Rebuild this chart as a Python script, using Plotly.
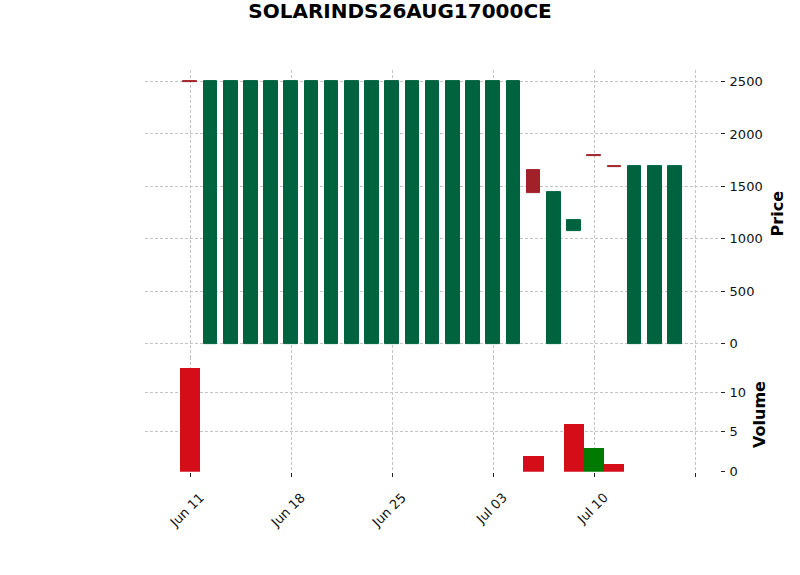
import plotly.graph_objects as go

# ---- data ----
title = "SOLARINDS26AUG17000CE"
positions = list(range(25))
opens = [2500] + [0] * 16 + [1660, 0, 1072, 1800, 1695, 0, 0, 0]
closes = [2492] + [2500] * 16 + [1435, 1445, 1180, 1792, 1688, 1690, 1690, 1690]
volumes = [13] + [0] * 16 + [2, 0, 6, 3, 1, 0, 0, 0]
tick_positions = [0, 5, 10, 15, 20, 25]
tick_labels = ["Jun 11", "Jun 18", "Jun 25", "Jul 03", "Jul 10", ""]
price_ticks = [0, 500, 1000, 1500, 2000, 2500]
volume_ticks = [0, 5, 10]
volume_grid = [5, 10]

# ---- style ----
UP, DOWN = "#006340", "#a02128"
VUP, VDOWN = "#007a00", "#d50d18"
GRID = "#c4c4c4"
DASH = "3px,2px"
FONT = "DejaVu Sans"
W, H = 800, 575
H_EFF = 566  # rendered plot height observed in the sandbox

candle_colors = [UP if c > o else DOWN for o, c in zip(opens, closes)]
vol_colors = []
for i, c in enumerate(closes):
    ref = opens[i] if i == 0 else closes[i - 1]
    vol_colors.append(VUP if c > ref else VDOWN)

fig = go.Figure()
fig.add_trace(go.Bar(
    x=positions, y=[c - o for o, c in zip(opens, closes)], base=opens,
    width=0.68, marker=dict(color=candle_colors, line=dict(color=candle_colors, width=1)),
    xaxis="x", yaxis="y", showlegend=False, hoverinfo="skip"))
fig.add_trace(go.Bar(
    x=positions, y=volumes, width=1.0,
    marker=dict(color=vol_colors, line=dict(width=0)),
    xaxis="x2", yaxis="y2", showlegend=False, hoverinfo="skip"))


def px_x(p):
    return p / W


def px_y(p):
    return 1 - p / H_EFF


xrange = [-2.24, 26.23]
common_x = dict(range=xrange, showgrid=True, gridcolor=GRID, griddash=DASH, gridwidth=0.8,
                tickvals=tick_positions, zeroline=False, showline=False,
                domain=[px_x(145), px_x(720)])
vol_dom = [px_y(471), px_y(356.6)]
vol_range = [0, 14.36]

fig.update_layout(
    width=W, height=H, margin=dict(l=0, r=0, t=0, b=0),
    paper_bgcolor="white", plot_bgcolor="white", bargap=0,
    font=dict(family=FONT, size=13, color="#111111"),
    title=dict(text="<b>" + title + "</b>", x=0.5, xanchor="center", y=px_y(11), yanchor="middle",
               font=dict(family=FONT, size=20, color="black")),
    xaxis=dict(**common_x, anchor="y", showticklabels=False, ticks="", matches="x2"),
    xaxis2=dict(**common_x, anchor="y2", ticktext=tick_labels, ticks="outside", ticklen=4,
                tickcolor="#222222", tickangle=-45, ticklabelshift=10, ticklabelstandoff=8),
    yaxis=dict(domain=[px_y(356.6), px_y(70)], range=[-127, 2608], side="right", anchor="x",
               tickvals=price_ticks, ticks="outside", ticklen=4, tickcolor="#222222",
               showgrid=True, gridcolor=GRID, griddash=DASH, gridwidth=0.8,
               zeroline=False, showline=False, ticklabelstandoff=2,
               title=dict(text="<b>Price</b>", font=dict(family=FONT, size=16, color="black"), standoff=10)),
    yaxis2=dict(domain=vol_dom, range=vol_range, side="right", anchor="x2",
                tickvals=volume_ticks, ticks="outside", ticklen=4, tickcolor="#222222",
                showgrid=False, zeroline=False, showline=False, ticklabelstandoff=2,
                title=dict(text="<b>Volume</b>", font=dict(family=FONT, size=16, color="black"), standoff=8)),
    # grid-only overlay axis for the volume panel (no grid line on the baseline)
    yaxis3=dict(domain=vol_dom, range=vol_range, overlaying="y2", side="right", anchor="x2",
                tickvals=volume_grid, showticklabels=False, ticks="",
                showgrid=True, gridcolor=GRID, griddash=DASH, gridwidth=0.8,
                zeroline=False, showline=False),
)
# attach an empty trace so the grid-only axis is drawn
fig.add_trace(go.Scatter(x=[None], y=[None], xaxis="x2", yaxis="y3", showlegend=False,
                         hoverinfo="skip"))

fig.write_html("out.html")
